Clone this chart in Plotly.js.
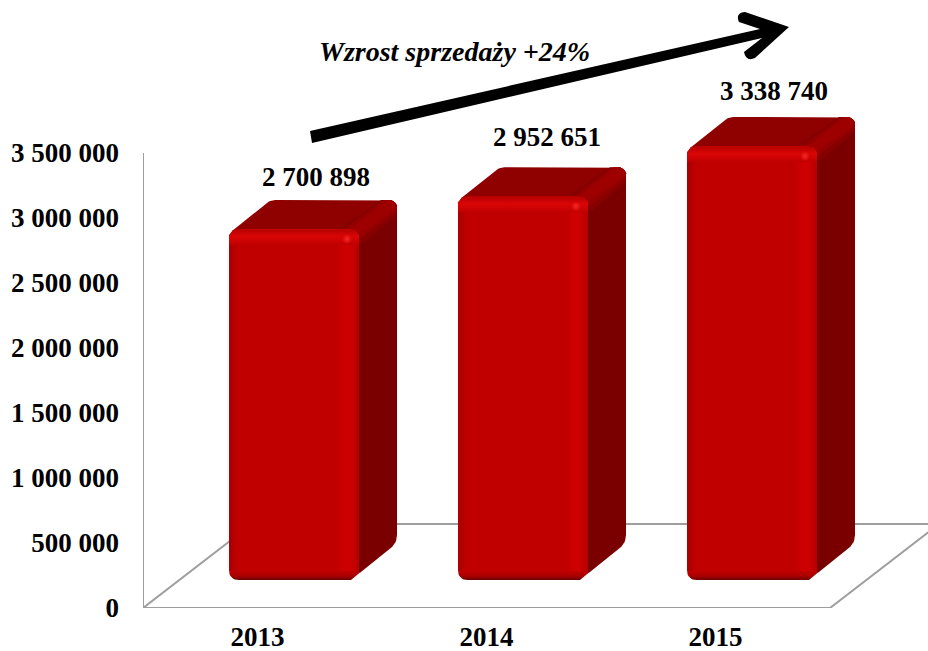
<!DOCTYPE html>
<html><head><meta charset="utf-8">
<script src="https://cdn.plot.ly/plotly-3.0.1.min.js"></script>
<style>html,body{margin:0;padding:0;background:#fff}#c{width:928px;height:651px}</style>
</head><body><div id="c"></div>
<script>
const years = ['2013', '2014', '2015'];
const sales = [2700898, 2952651, 3338740];
const tickValues = [0, 500000, 1000000, 1500000, 2000000, 2500000, 3000000, 3500000];
const tickLabels = ['0', '500 000', '1 000 000', '1 500 000', '2 000 000', '2 500 000', '3 000 000', '3 500 000'];
const salesLabels = ['2 700 898', '2 952 651', '3 338 740'];
const growthLabel = 'Wzrost sprzedaży +24%';

const W = 928, H = 651, L = 143, T = 100, B = 608;
const S = 229, U = 3500000 / 455;            // px per slot, value per px
const FONT = '"Liberation Serif","Times New Roman",serif';
const GREY = '#9e9e9e';
const xRange = [0, (W - L) / S], yRange = [0, (B - T) * U];
const xOff = 151 / S, yOff = 28 * U;
const HW = 65, DX = 38, DY = 29;

// rounded polygon in local pixel offsets: [dx, dyUp, radius]
function rounded(pts) {
  const out = [], n = pts.length;
  for (let k = 0; k < n; k++) {
    const p = pts[k], a = pts[(k + n - 1) % n], b = pts[(k + 1) % n], r = p[2] || 0;
    if (!r) { out.push([p[0], p[1]]); continue; }
    const la = Math.hypot(a[0] - p[0], a[1] - p[1]), lb = Math.hypot(b[0] - p[0], b[1] - p[1]);
    const s = [p[0] + (a[0] - p[0]) * r / la, p[1] + (a[1] - p[1]) * r / la];
    const e = [p[0] + (b[0] - p[0]) * r / lb, p[1] + (b[1] - p[1]) * r / lb];
    for (let q = 0; q <= 8; q++) {
      const t = q / 8, u = 1 - t;
      out.push([u * u * s[0] + 2 * u * t * p[0] + t * t * e[0], u * u * s[1] + 2 * u * t * p[1] + t * t * e[1]]);
    }
  }
  return out;
}
// polygons where each point is anchored either to bar top (flag 1) or base (flag 0)
function face(i, v, pts, main, extra) {
  const poly = rounded(pts.map(p => [p[0], p[1] + (p[3] ? v / U : 0), p[2]]));
  return Object.assign({
    type: 'scatter', mode: 'lines', fill: 'toself', hoverinfo: 'skip', showlegend: false,
    line: {width: 0},
    x: poly.map(p => i + p[0] / S + (main ? xOff : 0)),
    y: poly.map(p => p[1] * U + (main ? yOff : 0)),
    xaxis: main ? 'x' : 'x2', yaxis: main ? 'y' : 'y2'
  }, extra);
}
function grad(type, stops) {
  return {fillgradient: {type: type, colorscale: stops}, fillcolor: 'rgba(0,0,0,0)'};
}
// soft highlight running along the front-to-back top right edge
function edgeBand(i, v, up, down, color) {
  return face(i, v, [
    [HW - 6 - up, -4 + up * 0.7, 0, 1], [HW + DX - 6 - up, DY, 0, 1], [HW + DX - 6, DY, 0, 1],
    [HW + DX - 2, DY - 2.5, 0, 1], [HW + DX, DY - 6, 0, 1], [HW + DX, DY - 6 - down, 0, 1], [HW - 6 + down, -6 - down, 0, 1]
  ], true, {fillcolor: color});
}

const traces = [];
// floor and wall lines
traces.push({type: 'scatter', mode: 'lines', showlegend: false, hoverinfo: 'skip', xaxis: 'x', yaxis: 'y',
  x: [0, 0, 3, 3 + 109 / S, 109 / S, 0], y: [3500000, 0, 0, 84 * U, 84 * U, 0],
  line: {color: GREY, width: 2}});

// back faces, on the main subplot so they sit behind the bars
sales.forEach((v, i) => {
  traces.push(face(i, v, [
    [HW - 14, -6, 0, 1], [HW + DX, DY, 8, 1], [HW + DX, 37, 8, 0], [HW - 8, 0, 0, 0]
  ], true, {fillcolor: '#7a0000'}));
  traces.push(face(i, v, [
    [-HW + 3, -2, 0, 1], [-HW + DX + 3, DY, 7, 1], [HW + DX, DY, 9, 1], [HW + DX, DY - 10, 0, 1], [HW, -6, 0, 1]
  ], true, {fillcolor: '#8f0000'}));
  traces.push(edgeBand(i, v, 10, 9, '#860000'));
  traces.push(edgeBand(i, v, 7, 5, '#940000'));
  traces.push(edgeBand(i, v, 4, 2, '#9e0000'));
});

// front of each bar
traces.push({type: 'bar', x: years.map((y, i) => i), y: sales, width: 2 * HW / S, xaxis: 'x2', yaxis: 'y2',
  marker: {color: '#c00000', cornerradius: 10, line: {width: 0}}, showlegend: false, hoverinfo: 'skip'});

// bevels on the front
sales.forEach((v, i) => {
  traces.push(face(i, v, [[-HW, -10, 0, 1], [-HW + 9, -10, 0, 1], [-HW + 9, 8, 0, 0], [-HW, 8, 0, 0]], false,
    grad('horizontal', [[0, '#a80000'], [1, '#c00000']])));
  traces.push(face(i, v, [[HW - 22, -8, 0, 1], [HW, -8, 0, 1], [HW, 6, 0, 0], [HW - 22, 6, 0, 0]], false,
    grad('horizontal', [[0, '#c00000'], [0.3, '#cc0000'], [0.65, '#cc0000'], [1, '#b40000']])));
  traces.push(face(i, v, [[-HW + 4, -1, 0, 1], [HW - 4, -1, 0, 1], [HW, -6, 0, 1], [HW, -16, 0, 1], [-HW, -16, 0, 1], [-HW, -6, 0, 1]], false,
    grad('vertical', [[0, '#c00000'], [0.55, '#da0606'], [1, '#b80000']])));
  traces.push(face(i, v, [[-HW, 9, 0, 0], [HW, 9, 0, 0], [HW, 0, 0, 0], [-HW, 0, 0, 0]], false,
    grad('vertical', [[0, '#6c0000'], [0.45, '#aa0000'], [1, '#c00000']])));
  // rounded lower left corner, chamfered lower right corner
  traces.push(face(i, v, [[-HW - 1, -1, 0, 0], [-HW - 1, 10, 0, 0], [-HW, 10, 0, 0], [-HW, 0, 10, 0], [-HW + 10, 0, 0, 0], [-HW + 10, -1, 0, 0]], false, {fillcolor: '#ffffff'}));
  traces.push(face(i, v, [[HW - 8, 0, 0, 0], [HW, 6.7, 0, 0], [HW + 1, 7.5, 0, 0], [HW + 1, -1, 0, 0], [HW - 8, -1, 0, 0]], false, {fillcolor: '#ffffff'}));
});
traces.push({type: 'scatter', mode: 'markers', xaxis: 'x2', yaxis: 'y2', showlegend: false, hoverinfo: 'skip',
  x: sales.map((v, i) => i + (HW - 12) / S), y: sales.map(v => v - 10 * U),
  marker: {size: 9, color: '#d80606', gradient: {type: 'radial', color: '#f42a2a'}, line: {width: 0}}});

const px = x => (x - L) / (W - L), py = y => (B - y) / (B - T);
const P = (x, y) => px(x).toFixed(5) + ',' + py(y).toFixed(5);
const arrowPath = 'M' + P(310, 131) + ' L' + P(760, 29) + ' L' + P(739, 22) + ' Q' + P(735, 13) + ' ' + P(745, 12) +
  ' L' + P(789, 27) + ' L' + P(755, 58) + ' Q' + P(746, 62) + ' ' + P(744, 52) + ' L' + P(762, 38) + ' L' + P(312, 143) + ' Z';

const annos = sales.map((v, i) => ({
  xref: 'x2', yref: 'y2', x: i, y: v, xshift: [22, 24, 22][i], yshift: [52, 59, 55][i], yanchor: 'middle', xanchor: 'center',
  showarrow: false, text: '<b>' + salesLabels[i] + '</b>', font: {family: FONT, size: 27, color: '#000'}
}));
annos.push({xref: 'paper', yref: 'paper', x: px(454), y: py(52), xanchor: 'center', yanchor: 'middle', showarrow: false,
  text: '<b><i>' + growthLabel + '</i></b>', font: {family: FONT, size: 28, color: '#000'}});

const axisFont = {family: FONT, size: 27, color: '#000', weight: 'bold'};
Plotly.newPlot('c', traces, {
  width: W, height: H, margin: {l: L, r: 0, t: T, b: H - B, pad: 0},
  paper_bgcolor: '#fff', plot_bgcolor: 'rgba(0,0,0,0)', showlegend: false, barmode: 'overlay',
  xaxis: {range: xRange, type: 'linear', tickmode: 'array', tickvals: [0.5, 1.5, 2.5], ticktext: years, showgrid: false,
    zeroline: false, showline: false, ticks: '', ticklabelstandoff: 10, tickfont: axisFont, fixedrange: true},
  yaxis: {range: yRange, tickmode: 'array', tickvals: tickValues, ticktext: tickLabels, showgrid: false,
    zeroline: false, showline: false, ticks: '', ticklabelstandoff: 23, tickfont: axisFont, fixedrange: true},
  xaxis2: {range: [-xOff, xRange[1] - xOff], overlaying: 'x', visible: false, fixedrange: true},
  yaxis2: {range: [-yOff, yRange[1] - yOff], overlaying: 'y', visible: false, fixedrange: true},
  annotations: annos,
  shapes: [{type: 'path', xref: 'paper', yref: 'paper', path: arrowPath, fillcolor: '#000', line: {width: 0}, layer: 'above'}]
}, {staticPlot: true, displayModeBar: false});
</script></body></html>
